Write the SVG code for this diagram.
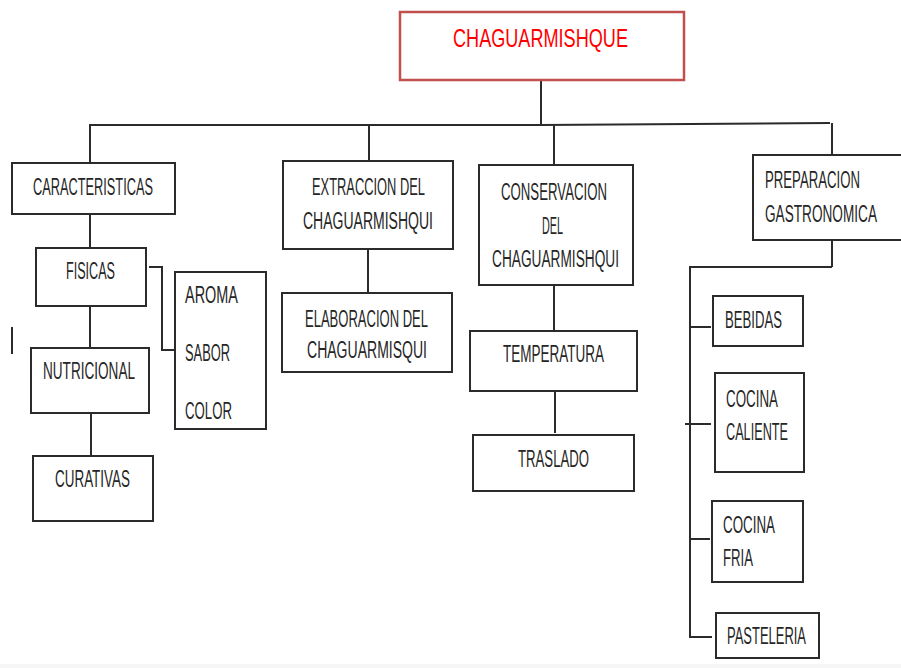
<svg xmlns="http://www.w3.org/2000/svg" width="901" height="668" viewBox="0 0 901 668">
<style>
.box{fill:#fff;stroke:#2b2b2b;stroke-width:2}
.root{fill:#fff;stroke:#c0504d;stroke-width:2.5}
.t{font-family:"Liberation Sans Narrow","Liberation Sans",Arial,sans-serif;font-size:23px;fill:#262626}
.rt{font-family:"Liberation Sans Narrow","Liberation Sans",Arial,sans-serif;font-size:26px;fill:#ff0000}
.c line,.c polyline{stroke:#2b2b2b;stroke-width:2;fill:none}
</style>
<rect x="0" y="0" width="901" height="668" fill="#fff"/>
<rect x="0" y="664" width="901" height="4" fill="#f6f6f6"/>
<g class="c" id="connectors">
<line x1="541" y1="80" x2="541" y2="125"/>
<polyline points="90,163 90,125 541,125 830,123"/>
<line x1="832" y1="123" x2="832" y2="155"/>
<line x1="369" y1="125" x2="369" y2="161"/>
<line x1="554" y1="124" x2="554" y2="165"/>
<line x1="90" y1="214" x2="90" y2="248"/>
<polyline points="149,267 162,267 162,350 175,350"/>
<line x1="90" y1="306" x2="90" y2="348"/>
<line x1="91" y1="413" x2="91" y2="456"/>
<line x1="12" y1="327" x2="12" y2="354"/>
<line x1="368" y1="249" x2="368" y2="293"/>
<line x1="554" y1="285" x2="554" y2="331"/>
<line x1="555" y1="390" x2="555" y2="433"/>
<line x1="832" y1="240" x2="832" y2="267"/>
<polyline points="832,267 690,267 690,637 712,637"/>
<line x1="690" y1="327" x2="711" y2="327"/>
<line x1="685" y1="424" x2="711" y2="424"/>
<line x1="690" y1="539" x2="710" y2="539"/>
</g>
<g id="n-root"><rect class="root" x="400" y="12" width="284" height="68"/><text class="rt" x="453" y="47" textLength="175" lengthAdjust="spacingAndGlyphs">CHAGUARMISHQUE</text></g>
<g id="n-caracteristicas"><rect class="box" x="12" y="163" width="163" height="51"/><text class="t" x="33" y="195" textLength="120" lengthAdjust="spacingAndGlyphs">CARACTERISTICAS</text></g>
<g id="n-fisicas"><rect class="box" x="36" y="248" width="110" height="58"/><text class="t" x="66" y="279" textLength="49" lengthAdjust="spacingAndGlyphs">FISICAS</text></g>
<g id="n-aroma"><rect class="box" x="175" y="272" width="91" height="157"/><text class="t" x="185" y="303" textLength="53" lengthAdjust="spacingAndGlyphs">AROMA</text><text class="t" x="185" y="361" textLength="45" lengthAdjust="spacingAndGlyphs">SABOR</text><text class="t" x="185" y="419" textLength="47" lengthAdjust="spacingAndGlyphs">COLOR</text></g>
<g id="n-nutricional"><rect class="box" x="31" y="348" width="118" height="65"/><text class="t" x="43" y="379" textLength="92" lengthAdjust="spacingAndGlyphs">NUTRICIONAL</text></g>
<g id="n-curativas"><rect class="box" x="33" y="456" width="120" height="65"/><text class="t" x="55" y="487" textLength="75" lengthAdjust="spacingAndGlyphs">CURATIVAS</text></g>
<g id="n-extraccion"><rect class="box" x="283" y="161" width="170" height="88"/><text class="t" x="312" y="195" textLength="113" lengthAdjust="spacingAndGlyphs">EXTRACCION DEL</text><text class="t" x="303" y="229" textLength="130" lengthAdjust="spacingAndGlyphs">CHAGUARMISHQUI</text></g>
<g id="n-elaboracion"><rect class="box" x="282" y="293" width="170" height="79"/><text class="t" x="305" y="327" textLength="123" lengthAdjust="spacingAndGlyphs">ELABORACION DEL</text><text class="t" x="307" y="358" textLength="120" lengthAdjust="spacingAndGlyphs">CHAGUARMISQUI</text></g>
<g id="n-conservacion"><rect class="box" x="479" y="165" width="154" height="120"/><text class="t" x="501" y="200" textLength="106" lengthAdjust="spacingAndGlyphs">CONSERVACION</text><text class="t" x="542" y="234" textLength="21" lengthAdjust="spacingAndGlyphs">DEL</text><text class="t" x="492" y="267" textLength="127" lengthAdjust="spacingAndGlyphs">CHAGUARMISHQUI</text></g>
<g id="n-temperatura"><rect class="box" x="470" y="331" width="167" height="60"/><text class="t" x="503" y="362" textLength="101" lengthAdjust="spacingAndGlyphs">TEMPERATURA</text></g>
<g id="n-traslado"><rect class="box" x="473" y="435" width="161" height="56"/><text class="t" x="518" y="467" textLength="71" lengthAdjust="spacingAndGlyphs">TRASLADO</text></g>
<g id="n-preparacion"><rect class="box" x="753" y="155" width="160" height="85"/><text class="t" x="765" y="188" textLength="95" lengthAdjust="spacingAndGlyphs">PREPARACION</text><text class="t" x="765" y="222" textLength="112" lengthAdjust="spacingAndGlyphs">GASTRONOMICA</text></g>
<g id="n-bebidas"><rect class="box" x="713" y="296" width="90" height="50"/><text class="t" x="725" y="328" textLength="57" lengthAdjust="spacingAndGlyphs">BEBIDAS</text></g>
<g id="n-cocina-caliente"><rect class="box" x="715" y="373" width="89" height="99"/><text class="t" x="726" y="407" textLength="52" lengthAdjust="spacingAndGlyphs">COCINA</text><text class="t" x="726" y="440" textLength="62" lengthAdjust="spacingAndGlyphs">CALIENTE</text></g>
<g id="n-cocina-fria"><rect class="box" x="712" y="501" width="91" height="81"/><text class="t" x="723" y="533" textLength="52" lengthAdjust="spacingAndGlyphs">COCINA</text><text class="t" x="723" y="566" textLength="30" lengthAdjust="spacingAndGlyphs">FRIA</text></g>
<g id="n-pasteleria"><rect class="box" x="716" y="613" width="103" height="45"/><text class="t" x="727" y="644" textLength="79" lengthAdjust="spacingAndGlyphs">PASTELERIA</text></g>
</svg>
